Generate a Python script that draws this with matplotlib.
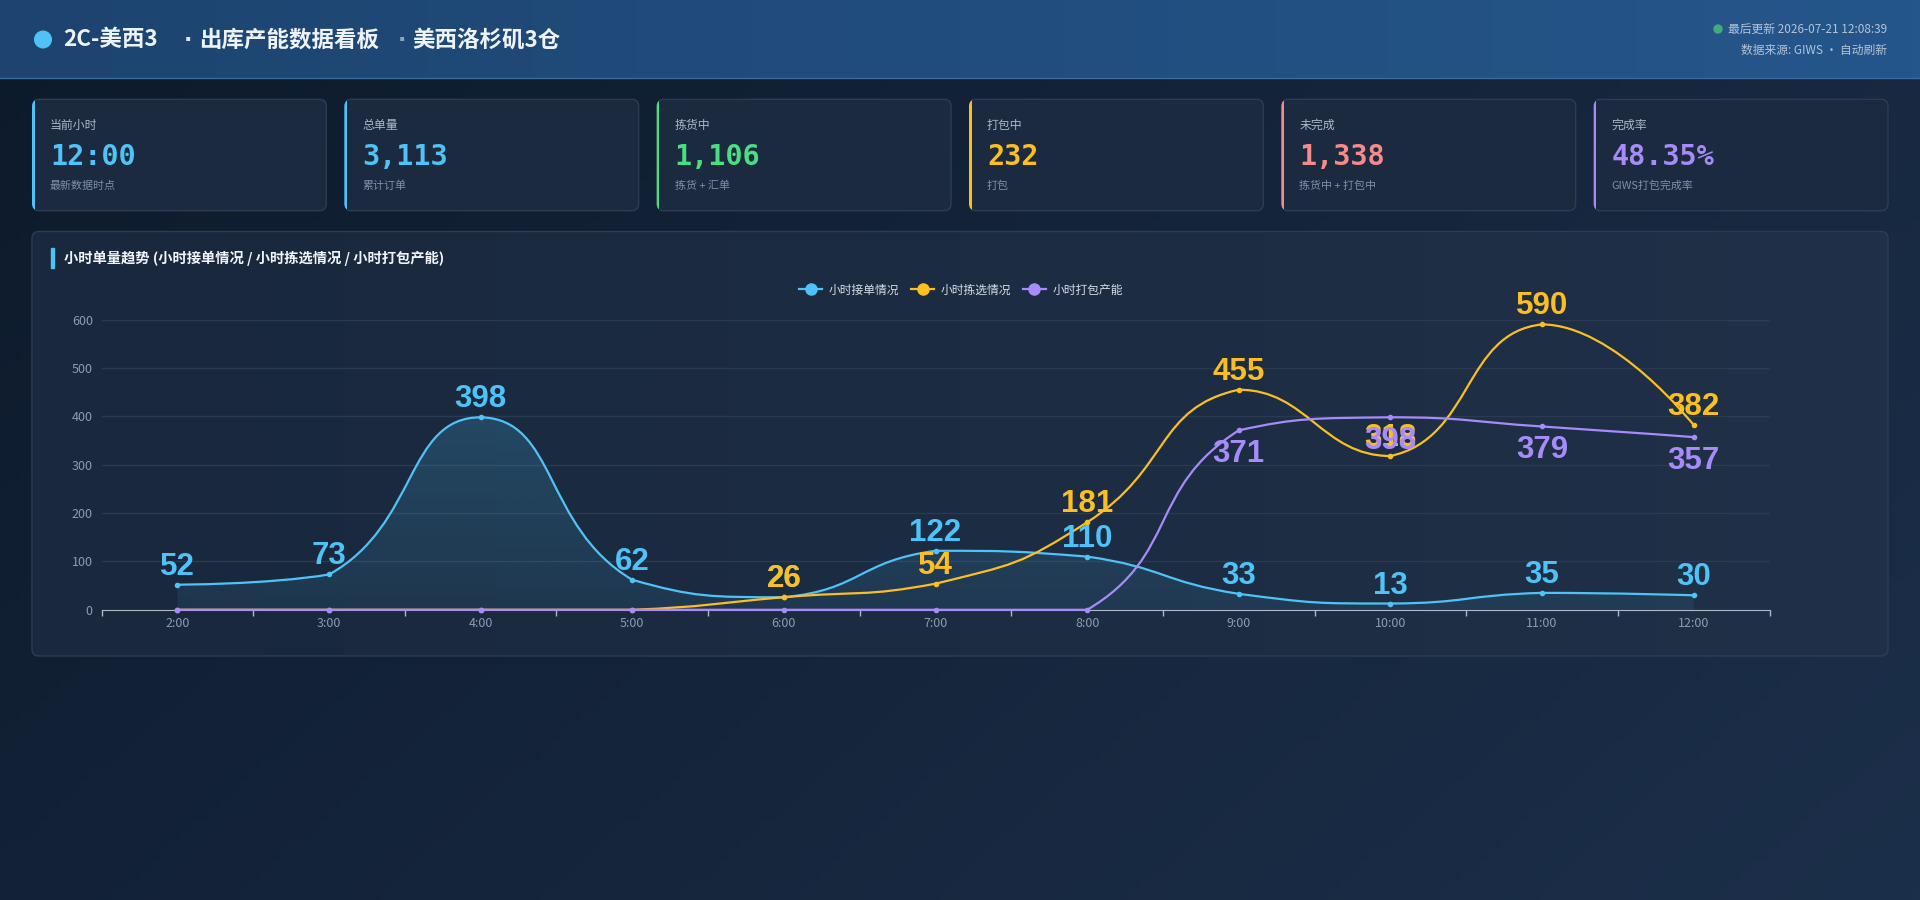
import numpy as np
import matplotlib
matplotlib.use("Agg")
import matplotlib.pyplot as plt
from matplotlib.patches import FancyBboxPatch, Rectangle, Circle, PathPatch
from matplotlib.path import Path
from matplotlib.lines import Line2D
from matplotlib.colors import to_rgb

plt.rcParams["font.family"] = ["Noto Sans CJK SC", "DejaVu Sans"]

W, H = 1920, 900

# --- data ---
hours = ["2:00", "3:00", "4:00", "5:00", "6:00", "7:00", "8:00", "9:00", "10:00", "11:00", "12:00"]
received = [52, 73, 398, 62, 26, 122, 110, 33, 13, 35, 30]
picked = [0, 0, 0, 0, 26, 54, 181, 455, 318, 590, 382]
packed = [0, 0, 0, 0, 0, 0, 0, 371, 398, 379, 357]
series_names = ["小时接单情况", "小时拣选情况", "小时打包产能"]
y_ticks = [0, 100, 200, 300, 400, 500, 600]

card_titles = ["当前小时", "总单量", "拣货中", "打包中", "未完成", "完成率"]
card_values = ["12:00", "3,113", "1,106", "232", "1,338", "48.35%"]
card_notes = ["最新数据时点", "累计订单", "拣货 + 汇单", "打包", "拣货中 + 打包中", "GIWS打包完成率"]

title_parts = ["2C-美西3", "出库产能数据看板", "美西洛杉矶3仓"]
chart_title = "小时单量趋势 (小时接单情况 / 小时拣选情况 / 小时打包产能)"
updated = "最后更新 2026-07-21 12:08:39"
source = "数据来源: GIWS · 自动刷新"

CYAN, YELLOW, PURPLE = "#4fc3f7", "#fbbf24", "#a78bfa"
GREEN, RED = "#4ade80", "#f78a8a"
card_colors = [CYAN, CYAN, GREEN, YELLOW, RED, PURPLE]
series_colors = [CYAN, YELLOW, PURPLE]

# plot area in pixels
PL, PR, PT, PB = 101.6, 1769.5, 319.6, 609.8


def gradient(c0, c1, n=256, horizontal=True):
    a, b = np.array(to_rgb(c0)), np.array(to_rgb(c1))
    t = np.linspace(0, 1, n)[:, None]
    g = a + (b - a) * t
    return g[None, :, :] if horizontal else g[:, None, :]


def echarts_smooth(xs, ys, sx, sy, smooth=0.5):
    # bezier control points built like an echarts smooth line,
    # each one kept inside the box of its own segment (no overshoot)
    pts = np.column_stack([np.asarray(xs, float) * sx, np.asarray(ys, float) * sy])
    verts, codes = [pts[0]], [Path.MOVETO]
    cp0 = pts[0]
    for k in range(1, len(pts)):
        p, prev = pts[k], pts[k - 1]
        lo, hi = np.minimum(p, prev), np.maximum(p, prev)
        if k == len(pts) - 1:
            cp1, v, ratio = p, np.zeros(2), 0.5
        else:
            nxt = pts[k + 1]
            v = nxt - prev
            l0, l1 = np.hypot(*(p - prev)), np.hypot(*(nxt - p))
            ratio = l1 / (l0 + l1) if l0 + l1 > 0 else 0.5
            cp1 = p - v * smooth * (1 - ratio)
        verts += [np.clip(cp0, lo, hi), np.clip(cp1, lo, hi), p]
        codes += [Path.CURVE4] * 3
        cp0 = p + v * smooth * ratio
    return np.array(verts) / [sx, sy], codes


fig = plt.figure(figsize=(W / 100, H / 100), dpi=100)
bg = fig.add_axes([0, 0, 1, 1])
bg.set_xlim(0, W)
bg.set_ylim(H, 0)
bg.axis("off")

# page background
yy, xx = np.mgrid[0:1:90j, 0:1:192j]
t = (0.65 * xx + 0.35 * yy)[..., None]
c0, c1 = np.array(to_rgb("#0d1a2b")), np.array(to_rgb("#1c2f4a"))
bg.imshow(c0 + (c1 - c0) * t, extent=(0, W, H, 0), aspect="auto", zorder=0)

# header
bg.imshow(gradient("#1d4470", "#25568b"), extent=(0, W, 78, 0), aspect="auto", zorder=1)
bg.plot([0, W], [78, 78], color="#3a6b9c", lw=1, zorder=2)
bg.add_patch(Circle((43, 39.5), 8.3, color=CYAN, zorder=3))
head = dict(fontsize=16.2, weight="bold", color="#eef3f8", va="center", zorder=3)
for xt, part in zip([63.5, 199, 412], title_parts):
    bg.text(xt, 40, part, **head)
bg.text(188, 40, "·", fontsize=16, weight="bold", color="#dfe8f2", family="DejaVu Sans",
        ha="center", va="center", zorder=3)
bg.text(402, 40, "·", fontsize=16, weight="bold", color="#8ba6c4", family="DejaVu Sans",
        ha="center", va="center", zorder=3)
bg.add_patch(Circle((1718, 29), 4, color="#3fae7c", zorder=3))
bg.text(1887, 29, updated, fontsize=8.5, color="#b3c4d6", ha="right", va="center", zorder=3)
bg.text(1887, 50, source, fontsize=8.5, color="#b3c4d6", ha="right", va="center", zorder=3)

# KPI cards
card_w = (1856 - 5 * 18) / 6
for i in range(6):
    x0, y0, h = 32 + i * (card_w + 18), 99.3, 111.4
    accent = FancyBboxPatch((x0, y0), card_w, h, boxstyle="round,pad=0,rounding_size=7",
                            facecolor=card_colors[i], edgecolor="none", zorder=3)
    bg.add_patch(accent)
    body = FancyBboxPatch((x0, y0), card_w, h, boxstyle="round,pad=0,rounding_size=7",
                          facecolor="#1b2a3e", edgecolor="#2c3c53", lw=1, zorder=4)
    bg.add_patch(body)
    body.set_clip_path(Rectangle((x0 + 2.5, y0 - 3), card_w + 5, h + 6, transform=bg.transData))
    bg.text(x0 + 18, 125, card_titles[i], fontsize=8.6, color="#a9b8ca", va="center", zorder=5)
    bg.text(x0 + 18, 157, card_values[i], fontsize=20.5, family="DejaVu Sans Mono", weight="bold",
            color=card_colors[i], va="center", zorder=5)
    bg.text(x0 + 18, 186, card_notes[i], fontsize=7.9, color="#7f91a6", va="center", zorder=5)

# chart panel
panel = FancyBboxPatch((32, 231.5), 1856, 424.5, boxstyle="round,pad=0,rounding_size=7",
                       facecolor="none", edgecolor="#2c3c53", lw=1, zorder=4)
bg.add_patch(panel)
pim = bg.imshow(gradient("#19283c", "#1f3048"), extent=(32, 1888, 656, 231.5), aspect="auto", zorder=3)
pim.set_clip_path(panel)
bg.add_patch(Rectangle((50.5, 248), 3.5, 20, color=CYAN, zorder=5))
bg.text(64, 258, chart_title, fontsize=10.3, weight="bold", color="#f1f5f9", va="center", zorder=5)

# plot area
ax = fig.add_axes([PL / W, 1 - PB / H, (PR - PL) / W, (PB - PT) / H])
ax.patch.set_alpha(0)
x = np.arange(len(hours))
sx = (PR - PL) / len(hours)
sy = (PB - PT) / 600

for side in ["left", "right", "top"]:
    ax.spines[side].set_visible(False)
ax.spines["bottom"].set_color("#aeb9c6")
ax.spines["bottom"].set_zorder(2)
ax.set_yticks(y_ticks)
ax.tick_params(axis="y", length=0, pad=6.3, labelsize=9, labelcolor="#8c9db1")
ax.set_xticks(x)
ax.set_xticklabels(hours)
ax.set_xticks(np.arange(-0.5, len(hours)), minor=True)
ax.tick_params(axis="x", which="major", length=0, pad=5.5, labelsize=9, labelcolor="#8c9db1")
ax.tick_params(axis="x", which="minor", length=4.3, width=1, color="#aeb9c6")
ax.grid(axis="y", color="#2a3a50", lw=1)
ax.set_axisbelow(True)

# area under the received-orders line
verts, codes = echarts_smooth(x, received, sx, sy)
area = Path(np.vstack([verts, [[x[-1], 0], [x[0], 0], [x[0], received[0]]]]),
            codes + [Path.LINETO, Path.LINETO, Path.CLOSEPOLY])
area_patch = PathPatch(area, facecolor="none", edgecolor="none")
ax.add_patch(area_patch)
shade = np.zeros((256, 1, 4))
shade[..., :3] = to_rgb(CYAN)
shade[..., 3] = np.linspace(0.2, 0.09, 256)[:, None]
im = ax.imshow(shade, extent=(-0.5, len(hours) - 0.5, 0, max(received)), aspect="auto", zorder=1)
im.set_clip_path(area_patch)

handles = []
for k, (vals, color) in enumerate(zip([received, picked, packed], series_colors)):
    verts, codes = echarts_smooth(x, vals, sx, sy)
    ax.add_patch(PathPatch(Path(verts, codes), fill=False, edgecolor=color, lw=1.6,
                           zorder=3 + k, clip_on=False))
    ax.plot(x, vals, "o", color=color, ms=3.0, zorder=3 + k, clip_on=False)
    handles.append(Line2D([], [], color=color, lw=1.6, marker="o", ms=8))

label_font = dict(family=["Liberation Sans", "DejaVu Sans"], weight="bold", fontsize=22.5)
for k, (vals, color) in enumerate(zip([received, picked, packed], series_colors)):
    off = -23 if k == 2 else 7.2
    for xi, v in zip(x, vals):
        if v > 0:
            ax.annotate(str(v), (xi, v), xytext=(0, off), textcoords="offset points",
                        ha="center", va="baseline", color=color, zorder=10 + k, **label_font)

ax.set_xlim(-0.5, len(hours) - 0.5)
ax.set_ylim(0, 600)

fig.legend(handles, series_names, loc="center", bbox_to_anchor=(961 / W, 1 - 290 / H), ncol=3,
           frameon=False, fontsize=8.5, labelcolor="#d5dee8", handlelength=1.95,
           handletextpad=0.55, columnspacing=1.0)

fig.savefig("out.png", dpi=100, facecolor="#0f1c2e")
